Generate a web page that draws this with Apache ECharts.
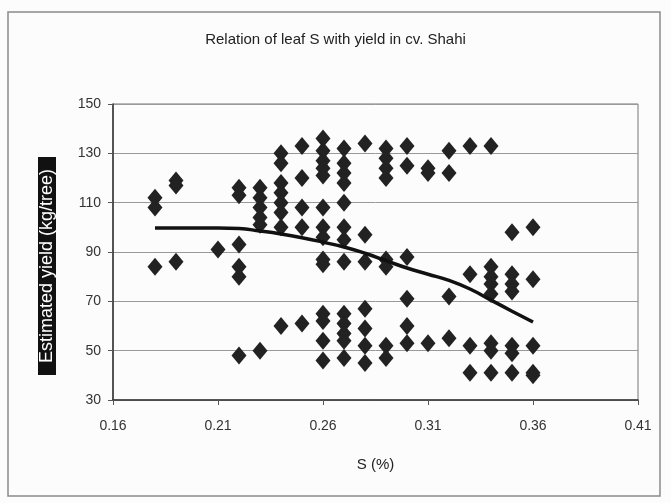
<!DOCTYPE html>
<html>
  <head>
    <meta charset="utf-8">
    <title>Relation of leaf S with yield in cv. Shahi</title>
    <script src="https://cdn.jsdelivr.net/npm/echarts@6/dist/echarts.min.js"></script>
  </head>
  <body style="margin:0; background:#fcfcfc;">
      <div id="main" style="width:671px; height:503px;"></div>
      <script>
          // leaf S levels (%) and the yields measured at each level
          var sLevels = [0.18, 0.19, 0.21, 0.22, 0.23, 0.24, 0.25, 0.26, 0.27,
                         0.28, 0.29, 0.30, 0.31, 0.32, 0.33, 0.34, 0.35, 0.36]
          var yieldAtLevel = [
              [112, 108, 84],
              [119, 117, 86],
              [91],
              [116, 113, 93, 84, 80, 48],
              [116, 112, 108, 104, 101, 50],
              [130, 126, 118, 114, 110, 106, 100, 60],
              [133, 120, 108, 100, 61],
              [136, 131, 127, 124, 121, 108, 100, 96, 87, 85, 65, 62, 54, 46],
              [132, 126, 122, 118, 110, 100, 95, 86, 65, 61, 57, 54, 47],
              [134, 97, 86, 67, 59, 52, 45],
              [132, 128, 124, 120, 87, 84, 52, 47],
              [133, 125, 88, 71, 60, 53],
              [124, 122, 53],
              [131, 122, 72, 55],
              [133, 81, 52, 41],
              [133, 84, 80, 77, 73, 53, 50, 41],
              [98, 81, 77, 74, 52, 49, 41],
              [100, 79, 52, 41, 40]
          ]
          // trend line
          var trendYield = [99.7, 99.7, 99.7, 99.5, 98.5, 97.3, 95.8, 94, 92,
                            89.5, 86.5, 83.5, 81, 78.5, 75, 70.5, 66, 61.6]

          var xTickLabels = ['0.16', '0.21', '0.26', '0.31', '0.36', '0.41']
          var yTickLabels = ['30', '50', '70', '90', '110', '130', '150']

          var points = []
          sLevels.forEach(function(s, i) {
              yieldAtLevel[i].forEach(function(v) {
                  points.push([s, v])
              })
          })
          var trend = sLevels.map(function(s, i) {
              return [s, trendYield[i]]
          })

          var font = 'Liberation Sans, Arial, sans-serif'
          var myChart = echarts.init(document.querySelector('#main'))

          var option = {
              backgroundColor: '#fcfcfc',
              animation: false,
              title: {
                  text: 'Relation of leaf S with yield in cv. Shahi',
                  left: 'center',
                  top: 27,
                  textStyle: {fontFamily: font, fontSize: 15, fontWeight: 'normal', color: '#222'}
              },
              grid: {
                  left: 113, right: 33, top: 104, bottom: 103,
                  show: true,
                  borderColor: '#777',
                  borderWidth: 1
              },
              xAxis: {
                  type: 'value',
                  min: 0.16, max: 0.41, interval: 0.05,
                  name: 'S (%)',
                  nameLocation: 'middle',
                  nameGap: 57,
                  nameTextStyle: {fontFamily: font, fontSize: 15, color: '#222'},
                  axisLine: {lineStyle: {color: '#333', width: 1.5}},
                  axisTick: {show: true, length: 5, lineStyle: {color: '#555'}},
                  axisLabel: {
                      margin: 19,
                      fontFamily: font, fontSize: 14, color: '#333',
                      formatter: function(v, i) { return xTickLabels[i] }
                  },
                  splitLine: {show: false}
              },
              yAxis: {
                  type: 'value',
                  min: 30, max: 150, interval: 20,
                  axisLine: {show: true, lineStyle: {color: '#333', width: 1.5}},
                  axisTick: {show: true, length: 5, lineStyle: {color: '#555'}},
                  axisLabel: {
                      margin: 12,
                      fontFamily: font, fontSize: 14, color: '#333',
                      formatter: function(v, i) { return yTickLabels[i] }
                  },
                  splitLine: {lineStyle: {color: '#999', width: 1}}
              },
              graphic: [
                  {
                      type: 'rect',
                      shape: {x: 8, y: 12, width: 652, height: 484},
                      style: {fill: 'none', stroke: '#8a8a8a', lineWidth: 1.5},
                      silent: true
                  },
                  {
                      type: 'text',
                      x: 47, y: 266,
                      rotation: Math.PI / 2,
                      style: {
                          text: 'Estimated yield (kg/tree)',
                          fontFamily: font, fontSize: 18,
                          fill: '#fff',
                          backgroundColor: '#111',
                          padding: [0, 12],
                          align: 'center',
                          verticalAlign: 'middle'
                      }
                  }
              ],
              series: [
                  {
                      name: 'yield',
                      type: 'scatter',
                      symbol: 'diamond',
                      symbolSize: [15, 18],
                      itemStyle: {color: '#222', opacity: 1},
                      data: points
                  },
                  {
                      name: 'trend',
                      type: 'line',
                      smooth: true,
                      showSymbol: false,
                      lineStyle: {color: '#111', width: 3.5},
                      data: trend,
                      z: 3
                  }
              ]
          }
          myChart.setOption(option)
      </script>
  </body>
</html>
